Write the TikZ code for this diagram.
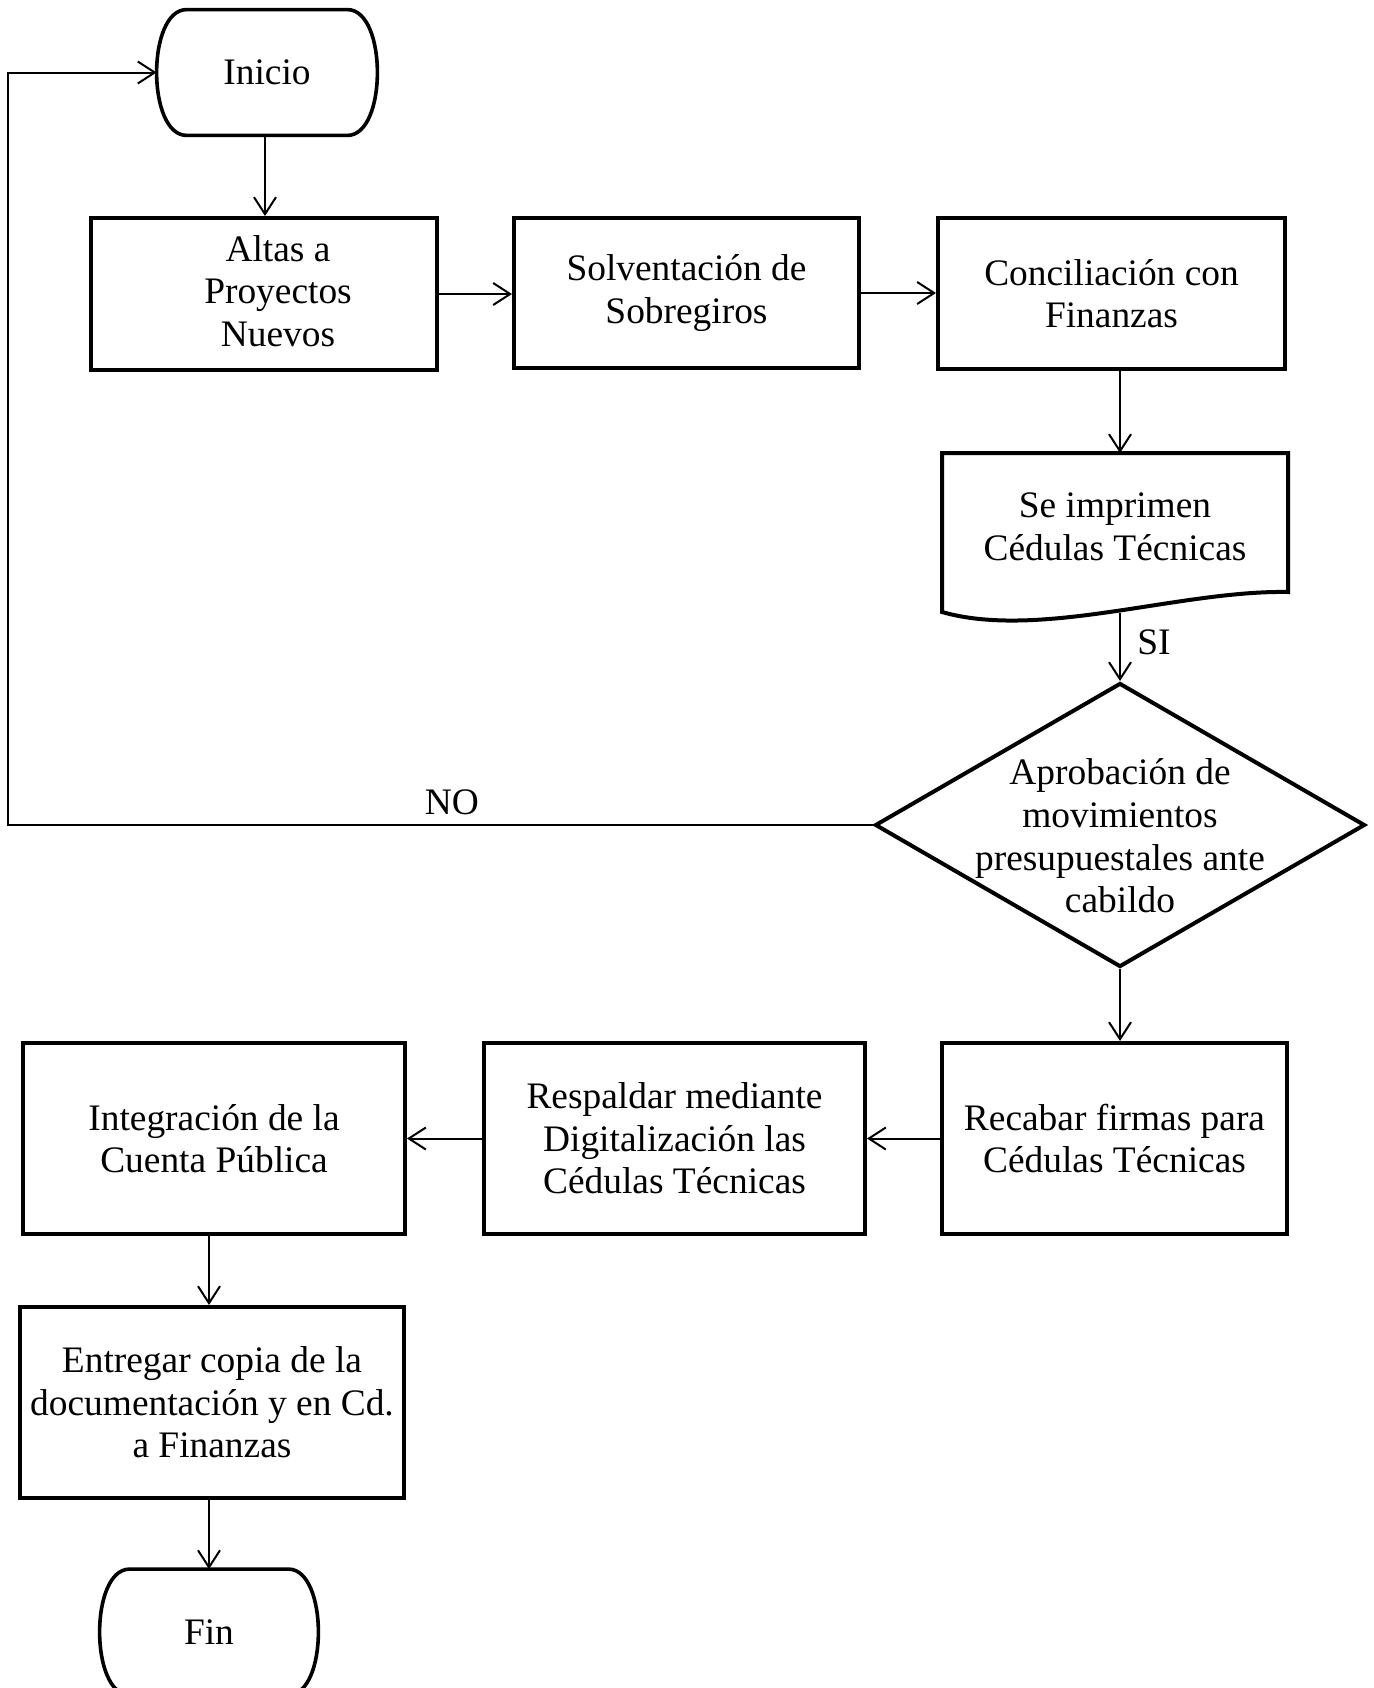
\documentclass[tikz,border=0pt]{standalone}
\usepackage{fontspec}
\setmainfont{Liberation Serif}
\usetikzlibrary{shapes.geometric,arrows.meta,calc}
% outline of a start/end terminal around a plain rectangular node
\newcommand{\termoutline}[1]{%
  \draw[line width=1.8pt]
    ($(#1.north west)+(30,0)$) -- ($(#1.north east)+(-30,0)$)
    .. controls ($(#1.north east)+(10,0)$) and ($(#1.south east)+(10,0)$) .. ($(#1.south east)+(-30,0)$)
    -- ($(#1.south west)+(30,0)$)
    .. controls ($(#1.south west)+(-10,0)$) and ($(#1.north west)+(-10,0)$) .. cycle;}
\begin{document}
\begin{tikzpicture}[x=0.5pt,y=-0.5pt,
  every node/.style={font=\fontsize{18.7}{21.3}\selectfont, align=center},
  box/.style={draw, line width=2pt, rectangle, inner sep=0pt},
  term/.style={rectangle, inner sep=0pt},
  arr/.style={line width=1pt, -{Straight Barb[length=8.5pt,width=11pt,line width=1pt]}}]
\useasboundingbox (0,0) rectangle (1373,1688);

% terminals
\node[term, minimum width=110pt, minimum height=62.5pt] (inicio) at (267,72.5) {Inicio};
\node[term, minimum width=109pt, minimum height=62.5pt] (fin) at (209,1632) {Fin};
\termoutline{inicio}
\termoutline{fin}

% top row
\node[box, minimum width=173pt, minimum height=76pt] (altas) at (264,294) {};
\node (altastext) at (278,291) {Altas a\\Proyectos\\Nuevos};
\node[box, minimum width=172.5pt, minimum height=75pt] (solv) at (686.5,293) {Solventación de\\Sobregiros};
\node[box, minimum width=173.5pt, minimum height=75.5pt] (conc) at (1111.5,293.5) {Conciliación con\\Finanzas};

% printed document
\draw[line width=2pt, line join=miter] (942,612) -- (942,453) -- (1288,453) -- (1288,592)
  .. controls (1180,590) and (1040,640) .. (942,612) -- cycle;
\node[inner sep=0pt, minimum width=173pt, minimum height=74pt] (doc) at (1115,527) {Se imprimen\\Cédulas Técnicas};
\coordinate (docbot) at (1120,613);

% decision
\node[draw, diamond, line width=2pt, minimum width=245pt, minimum height=142pt, inner sep=0pt] (dia) at (1120,825) {};
\node (diatext) at (1120,836) {Aprobación de\\movimientos\\presupuestales ante\\cabildo};

% bottom row
\node[box, minimum width=172.5pt, minimum height=95.5pt] (recabar) at (1114.5,1138.5) {Recabar firmas para\\Cédulas Técnicas};
\node[box, minimum width=190.5pt, minimum height=95.5pt] (resp) at (674.5,1138.5) {Respaldar mediante\\Digitalización las\\Cédulas Técnicas};
\node[box, minimum width=191pt, minimum height=95.5pt] (integ) at (214,1138.5) {Integración de la\\Cuenta Pública};
\node[box, minimum width=192pt, minimum height=95.5pt] (entr) at (212,1402.5) {Entregar copia de la\\documentación y en Cd.\\a Finanzas};

% connectors
\draw[arr] (inicio.south -| 265,0) -- (altas.north -| 265,0);
\draw[arr] (altas.east) -- (altas.east -| solv.west);
\draw[arr] (solv.east) -- (solv.east -| conc.west);
\draw[arr] (conc.south -| docbot) -- (docbot |- 0,453);
\draw[arr] (docbot) -- (dia.north);
\node (si) at (1154,642) {SI};
\draw[arr] (dia.south) -- (dia.south |- recabar.north);
\draw[arr] (recabar.west) -- (recabar.west -| resp.east);
\draw[arr] (resp.west) -- (resp.west -| integ.east);
\draw[arr] (integ.south -| fin.north) -- (entr.north -| fin.north);
\draw[arr] (entr.south -| fin.north) -- (fin.north);

% return path
\coordinate (lx) at (8,825);
\draw[arr] (dia.west) -- (lx) -- (lx |- inicio.west) -- (inicio.west);
\node (no) at (452,802) {NO};
\end{tikzpicture}
\end{document}
